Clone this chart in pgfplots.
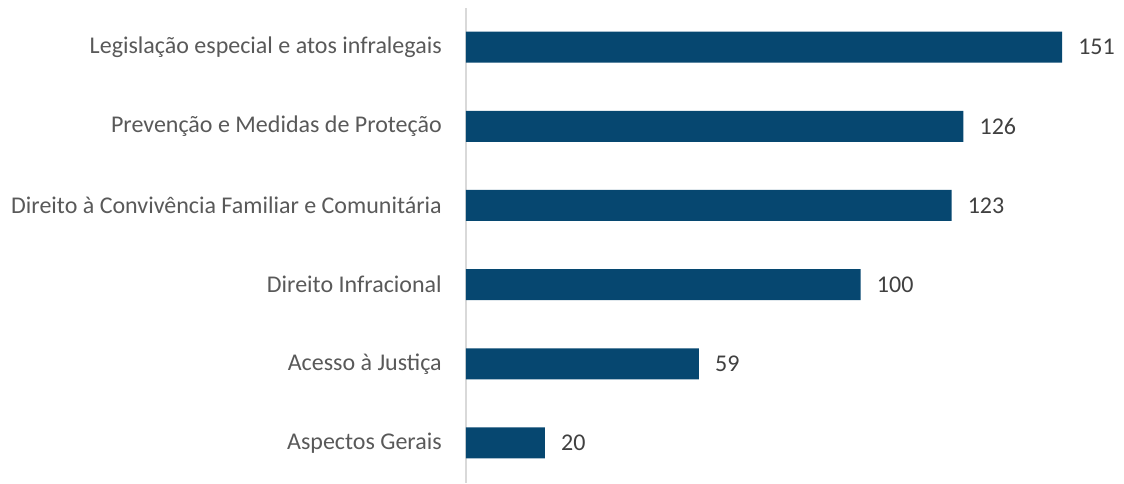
\documentclass[border=0pt]{standalone}
\usepackage{pgfplots}
\pgfplotsset{compat=1.18}
\usepackage{fontspec}
\setmainfont{Carlito}
\definecolor{barblue}{RGB}{6,71,112}
\definecolor{labgray}{RGB}{89,89,89}
\definecolor{valgray}{RGB}{64,64,64}
\definecolor{axgray}{RGB}{217,217,217}
\begin{document}
\begin{tikzpicture}
\useasboundingbox (0,0) rectangle (843pt,363pt);
\begin{axis}[
  at={(349.5pt,1.1pt)}, anchor=south west,
  scale only axis,
  width=493.5pt, height=356.25pt,
  xbar, bar width=23.25pt, bar shift=0pt,
  xmin=0, xmax=166.7,
  ymin=-0.5, ymax=5.5,
  ytick={0,1,2,3,4,5},
  yticklabels={Aspectos Gerais, Acesso à Justiça, Direito Infracional, Direito à Convivência Familiar e Comunitária, Prevenção e Medidas de Proteção, Legislação especial e atos infralegais},
  axis x line=none,
  axis y line*=left,
  y axis line style={draw=axgray, line width=1.5pt, -},
  major tick length=0pt,
  /pgf/number format/assume math mode=true,
  yticklabel style={font=\fontsize{18}{21}\selectfont, text=labgray, anchor=east, inner sep=0pt, xshift=-18pt},
  nodes near coords,
  nodes near coords style={font=\fontsize{18}{21}\selectfont, text=valgray, anchor=west, inner sep=0pt, xshift=12pt},
  point meta=x,
  clip=false,
]
\addplot[fill=barblue, draw=none] coordinates {(20,0) (59,1) (100,2) (123,3) (126,4) (151,5)};
\end{axis}
\end{tikzpicture}
\end{document}
